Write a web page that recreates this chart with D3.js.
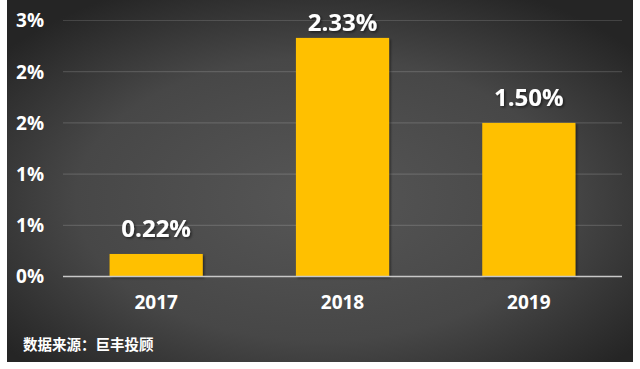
<!DOCTYPE html>
<meta charset="utf-8">
<style>
body { margin: 0; background: #fff; }
text { font-family: "Open Sans", "Noto Sans CJK SC", sans-serif; font-weight: bold; fill: #fff; }
.grid line { stroke: rgba(255,255,255,0.14); stroke-width: 1.2px; }
</style>
<svg width="640" height="369"></svg>
<script src="https://cdn.jsdelivr.net/npm/d3@7"></script>
<script>
var years = ["2017", "2018", "2019"];
var values = [0.0022, 0.0233, 0.0150];
var valueLabels = ["0.22%", "2.33%", "1.50%"];
var tickValues = [0, 0.005, 0.01, 0.015, 0.02, 0.025];
var tickLabels = ["0%", "1%", "1%", "2%", "2%", "3%"];
var source = "数据来源：巨丰投顾";

var svg = d3.select("svg");
var defs = svg.append("defs");

var grad = defs.append("radialGradient")
    .attr("id", "bg")
    .attr("cx", "50%").attr("cy", "55%").attr("r", "65%");
grad.append("stop").attr("offset", "0%").attr("stop-color", "#565656");
grad.append("stop").attr("offset", "60%").attr("stop-color", "#474747");
grad.append("stop").attr("offset", "100%").attr("stop-color", "#252525");

var shadow = defs.append("filter").attr("id", "shadow")
    .attr("x", "-10%").attr("y", "-10%").attr("width", "130%").attr("height", "130%");
shadow.append("feDropShadow")
    .attr("dx", 1.5).attr("dy", 1.5).attr("stdDeviation", 1.2)
    .attr("flood-color", "#000").attr("flood-opacity", 0.5);

svg.append("rect")
    .attr("x", 7).attr("y", 0)
    .attr("width", 626).attr("height", 362)
    .attr("fill", "url(#bg)");

var x = d3.scaleBand()
    .domain(years)
    .range([63, 622])
    .paddingInner(0.5)
    .paddingOuter(0.25);

var y = d3.scaleLinear()
    .domain([0, 0.025])
    .range([276.5, 20.5]);

// gridlines
svg.append("g")
    .attr("class", "grid")
  .selectAll("line")
  .data(tickValues.slice(1))
  .join("line")
    .attr("x1", 63).attr("x2", 622)
    .attr("y1", function(d) { return y(d); })
    .attr("y2", function(d) { return y(d); });

// y labels
svg.append("g")
  .selectAll("text")
  .data(tickValues)
  .join("text")
    .attr("x", 44)
    .attr("y", function(d) { return y(d); })
    .attr("dy", "0.36em")
    .attr("text-anchor", "end")
    .style("font-size", "19px")
    .text(function(d, i) { return tickLabels[i]; });

// bars
svg.append("g")
  .selectAll("rect")
  .data(values)
  .join("rect")
    .attr("x", function(d, i) { return x(years[i]); })
    .attr("y", function(d) { return y(d); })
    .attr("width", x.bandwidth())
    .attr("height", function(d) { return y(0) - y(d); })
    .attr("fill", "#FFC000")
    .attr("filter", "url(#shadow)");

// baseline
svg.append("line")
    .attr("x1", 63).attr("x2", 622)
    .attr("y1", y(0)).attr("y2", y(0))
    .attr("stroke", "#c8c8c8")
    .attr("stroke-width", 1.5);

// value labels (pushed down when they would leave the plot)
svg.append("g")
  .selectAll("text")
  .data(values)
  .join("text")
    .attr("x", function(d, i) { return x(years[i]) + x.bandwidth() / 2; })
    .attr("y", function(d) { return Math.max(y(d) - 17, 31); })
    .attr("text-anchor", "middle")
    .attr("filter", "url(#shadow)")
    .style("font-size", "24px")
    .text(function(d, i) { return valueLabels[i]; });

// x labels
svg.append("g")
  .selectAll("text")
  .data(years)
  .join("text")
    .attr("x", function(d) { return x(d) + x.bandwidth() / 2; })
    .attr("y", 302)
    .attr("dy", "0.36em")
    .attr("text-anchor", "middle")
    .style("font-size", "19px")
    .text(function(d) { return d; });

svg.append("text")
    .attr("x", 23)
    .attr("y", 345)
    .attr("dy", "0.36em")
    .style("font-size", "14.5px")
    .text(source);
</script>
